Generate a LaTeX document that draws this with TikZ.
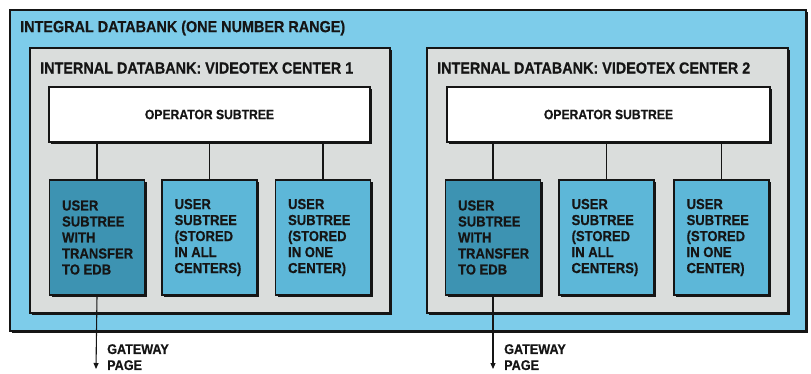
\documentclass[tikz,border=0pt]{standalone}
\usepackage{fontspec}
\newfontfamily\labelfont{Liberation Sans Bold}[FakeStretch=0.9, FakeBold=0.5]
\usetikzlibrary{shadows,arrows.meta}

\definecolor{outerblue}{HTML}{7DCCEA}
\definecolor{innergrey}{HTML}{DADDDC}
\definecolor{darkcell}{HTML}{3D93B2}
\definecolor{midcell}{HTML}{5DB7D8}
\definecolor{ink}{HTML}{151515}

\tikzset{
  panel/.style={draw=ink, line width=1.2pt, rectangle, inner sep=0pt,
    drop shadow={shadow xshift=2.2pt, shadow yshift=-2.2pt, fill=ink, opacity=1}},
  outerbox/.style={panel, fill=outerblue},
  centerbox/.style={panel, fill=innergrey},
  opbox/.style={panel, fill=white, minimum width=321pt, minimum height=55pt,
    font=\labelfont\fontsize{13.5}{16}\selectfont, text=ink},
  usercell/.style={panel, minimum width=95pt, minimum height=115pt},
  darkuser/.style={usercell, fill=darkcell},
  miduser/.style={usercell, fill=midcell},
  celltext/.style={anchor=west, align=left, inner sep=0pt, text=ink,
    font=\labelfont\fontsize{14.5}{16}\selectfont},
  titletext/.style={anchor=west, inner sep=0pt, text=ink,
    font=\labelfont\fontsize{16}{18}\selectfont},
  link/.style={draw=ink, line width=1.1pt},
  gate/.style={link, -{Triangle[length=6pt,width=5pt]}},
  gatetext/.style={anchor=north west, align=left, inner sep=0pt, text=ink,
    font=\labelfont\fontsize{14}{16}\selectfont}
}

\begin{document}
\begin{tikzpicture}[x=1pt, y=-1pt]
\useasboundingbox (0,0) rectangle (811,374);
\clip (0,0) rectangle (811,374);

% integral databank
\node[outerbox, minimum width=796pt, minimum height=321pt] (idb) at (408,170.5) {};
\node[titletext] (idbtitle) at (20,28) {INTEGRAL DATABANK (ONE NUMBER RANGE)};

% videotex centers
\node[centerbox, minimum width=360pt, minimum height=265pt] (c1) at (210,180.5) {};
\node[centerbox, minimum width=361pt, minimum height=265pt] (c2) at (607.5,180.5) {};
\node[titletext] (c1title) at (40,68) {INTERNAL DATABANK:\ VIDEOTEX CENTER 1};
\node[titletext] (c2title) at (437,68) {INTERNAL DATABANK:\ VIDEOTEX CENTER 2};

% operator subtrees
\node[opbox] (op1) at (209.5,114.5) {OPERATOR SUBTREE};
\node[opbox, minimum width=323pt] (op2) at (608.5,114.5) {OPERATOR SUBTREE};

% user subtrees, center 1
\node[darkuser] (u1a) at (97,237.5) {};
\node[miduser]  (u1b) at (209.5,237.5) {};
\node[miduser]  (u1c) at (323,237.5) {};
% user subtrees, center 2
\node[darkuser] (u2a) at (493,237.5) {};
\node[miduser]  (u2b) at (606.5,237.5) {};
\node[miduser]  (u2c) at (721.5,237.5) {};

\foreach \c in {u1a,u2a}
  \node[celltext] at ([xshift=13pt]\c.west) {USER\\SUBTREE\\WITH\\TRANSFER\\TO EDB};
\foreach \c in {u1b,u2b}
  \node[celltext] at ([xshift=13pt]\c.west) {USER\\SUBTREE\\(STORED\\IN ALL\\CENTERS)};
\foreach \c in {u1c,u2c}
  \node[celltext] at ([xshift=13pt]\c.west) {USER\\SUBTREE\\(STORED\\IN ONE\\CENTER)};

% tree links
\foreach \o/\c in {op1/u1a,op1/u1b,op1/u1c,op2/u2a,op2/u2b,op2/u2c}
  \draw[link] (\o.south -| \c.north) -- (\c.north);

% gateway pages
\coordinate (g1) at (96,369);
\coordinate (g2) at (493,369);
\draw[gate] (u1a.south) -- (g1);
\draw[gate] (u2a.south) -- (g2);
\node[gatetext] (g1text) at (107,344) {GATEWAY\\PAGE};
\node[gatetext] (g2text) at (504,344) {GATEWAY\\PAGE};
\end{tikzpicture}
\end{document}
